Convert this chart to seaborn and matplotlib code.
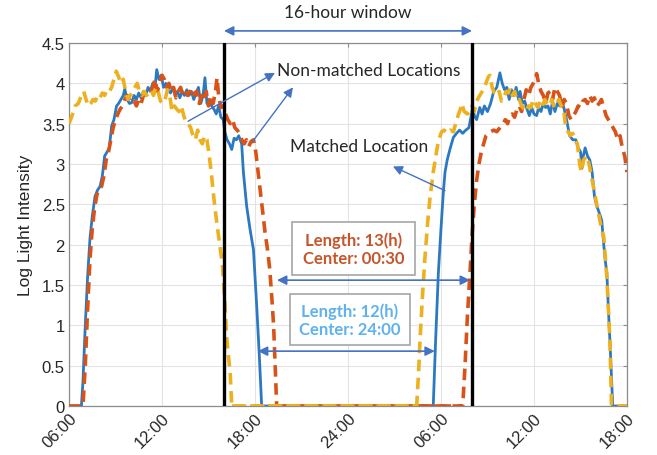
import matplotlib
matplotlib.use("Agg")
import matplotlib.pyplot as plt
import seaborn as sns
import pandas as pd
from matplotlib.patches import Rectangle

# ---------------- data (hours since 00:00 of day 1) ----------------
matched_hours = [6.0, 6.8, 6.9, 7.05, 7.2, 7.35, 7.5, 7.68, 7.85, 8.0, 8.15, 8.3, 8.43, 8.6, 8.75, 8.9, 9.07,
                 9.2, 9.35, 9.5, 9.6, 9.75, 9.9, 10.04, 10.2, 10.35, 10.5, 10.65, 10.8, 10.95, 11.1, 11.25,
                 11.4, 11.55, 11.66, 11.8, 11.95, 12.1, 12.25, 12.4, 12.55, 12.7, 12.85, 13.0, 13.15, 13.3,
                 13.45, 13.6, 13.75, 13.9, 14.05, 14.2, 14.35, 14.5, 14.65, 14.77, 14.9, 15.05, 15.2, 15.35,
                 15.5, 15.65, 15.8, 15.95, 16.05, 16.2, 16.35, 16.5, 16.65, 16.8, 16.95, 17.14, 17.25, 17.46,
                 17.68, 17.9, 18.11, 18.28, 18.43,
                 29.5, 29.65, 29.83, 30.0, 30.15, 30.26, 30.4, 30.6, 30.8, 31.0, 31.2, 31.4, 31.6, 31.8,
                 31.95, 32.05, 32.15, 32.3, 32.5, 32.65, 32.8, 33.0, 33.2, 33.4, 33.6, 33.8, 33.95, 34.1,
                 34.25, 34.4, 34.55, 34.7, 34.85, 35.0, 35.1, 35.25, 35.4, 35.55, 35.7, 35.85, 36.0, 36.17,
                 36.3, 36.45, 36.6, 36.75, 36.9, 37.05, 37.2, 37.35, 37.5, 37.65, 37.8, 37.95, 38.1, 38.3,
                 38.5, 38.7, 38.85, 39.0, 39.1, 39.18, 39.3, 39.45, 39.6, 39.75, 39.9, 40.05, 40.2, 40.37,
                 40.5, 40.6, 40.7, 40.8, 40.9, 41.0, 41.08, 42.0]
matched_values = [0, 0, 0.3, 1.0, 1.6, 2.07, 2.35, 2.6, 2.68, 2.72, 2.85, 3.1, 3.14, 3.2, 3.47, 3.55, 3.72,
                  3.75, 3.8, 3.85, 3.93, 3.8, 3.75, 3.76, 3.85, 3.8, 3.88, 3.82, 3.9, 3.85, 3.95, 3.9,
                  4.0, 3.95, 4.17, 4.05, 4.1, 3.95, 4.0, 3.92, 3.88, 3.95, 3.85, 3.9, 3.82, 3.9, 3.85,
                  3.92, 3.85, 3.9, 3.8, 3.88, 3.95, 3.75, 3.85, 4.07, 3.75, 3.8, 3.72, 3.68, 3.62, 3.72,
                  3.58, 3.55, 3.4, 3.3, 3.25, 3.18, 3.32, 3.3, 3.35, 3.25, 2.9, 2.48, 2.19, 1.94, 1.24, 0.62, 0,
                  0, 0.8, 1.65, 2.2, 2.65, 2.9, 3.05, 3.2, 3.33, 3.38, 3.42, 3.38, 3.42, 3.45, 3.6, 3.72,
                  3.6, 3.55, 3.7, 3.62, 3.72, 3.65, 3.75, 3.9, 3.95, 4.13, 4.0, 3.92, 3.95, 3.8, 3.92, 3.85,
                  3.95, 3.8, 3.9, 3.75, 3.78, 3.68, 3.6, 3.7, 3.62, 3.6, 3.7, 3.65, 3.75, 3.7, 3.72, 3.62,
                  3.78, 3.65, 3.75, 3.72, 3.78, 3.68, 3.55, 3.35, 3.3, 3.3, 3.2, 3.15, 2.95, 3.1, 3.2, 3.1,
                  3.05, 2.9, 2.6, 2.48, 2.4, 2.3, 2.0, 1.8, 1.65, 1.2, 0.8, 0.35, 0, 0]

nonmatched1_hours = [6.0, 6.9, 7.05, 7.2, 7.35, 7.5, 7.65, 7.8, 7.95, 8.1, 8.25, 8.4, 8.55, 8.7, 8.85, 9.0,
                     9.15, 9.3, 9.45, 9.6, 9.75, 9.9, 10.05, 10.2, 10.35, 10.5, 10.65, 10.8, 10.95, 11.1,
                     11.25, 11.4, 11.55, 11.7, 11.85, 12.0, 12.15, 12.3, 12.45, 12.6, 12.75, 12.9, 13.05,
                     13.2, 13.35, 13.5, 13.65, 13.8, 13.95, 14.1, 14.25, 14.4, 14.55, 14.7, 14.85, 15.0,
                     15.15, 15.3, 15.45, 15.55, 15.65, 15.8, 15.95, 16.1, 16.25, 16.4, 16.55, 16.7, 16.85,
                     17.0, 17.15, 17.3, 17.45, 17.6, 17.75, 17.9, 18.05, 18.2, 18.35, 18.5, 18.65, 18.8,
                     18.95, 19.1, 19.2, 19.3, 19.4,
                     31.4, 31.55, 31.7, 31.87, 32.0, 32.15, 32.3, 32.45, 32.6, 32.75, 32.9, 33.05, 33.2,
                     33.4, 33.6, 33.8, 34.0, 34.15, 34.3, 34.45, 34.6, 34.75, 34.9, 35.05, 35.2, 35.35,
                     35.5, 35.65, 35.8, 35.95, 36.1, 36.17, 36.3, 36.45, 36.6, 36.75, 36.9, 37.05, 37.2,
                     37.35, 37.5, 37.65, 37.8, 37.95, 38.1, 38.25, 38.4, 38.55, 38.7, 38.85, 39.0, 39.15,
                     39.3, 39.45, 39.6, 39.75, 39.9, 40.05, 40.2, 40.35, 40.5, 40.65, 40.8, 40.95, 41.1,
                     41.25, 41.4, 41.55, 41.7, 41.85, 42.0]
nonmatched1_values = [0, 0, 0.5, 1.2, 1.8, 2.2, 2.45, 2.62, 2.7, 2.72, 2.85, 3.05, 3.15, 3.3, 3.45, 3.55,
                      3.62, 3.68, 3.72, 3.8, 3.85, 3.8, 3.75, 3.78, 3.72, 3.8, 3.75, 3.85, 3.9, 3.88,
                      3.9, 3.95, 4.05, 3.9, 4.0, 4.1, 4.05, 3.95, 4.0, 3.9, 3.95, 3.82, 3.9, 3.95, 3.85,
                      3.9, 3.85, 3.9, 3.82, 3.88, 3.9, 3.75, 3.85, 3.78, 3.9, 3.72, 3.85, 3.75, 3.9, 4.07,
                      3.85, 3.7, 3.72, 3.62, 3.55, 3.5, 3.55, 3.45, 3.42, 3.38, 3.3, 3.25, 3.3, 3.22, 3.28,
                      3.3, 3.15, 2.9, 2.65, 2.4, 2.15, 1.95, 1.7, 1.3, 1.0, 0.5, 0,
                      0, 0.5, 1.1, 1.65, 2.1, 2.5, 2.8, 3.0, 3.15, 3.25, 3.35, 3.38, 3.4, 3.42, 3.4, 3.45,
                      3.5, 3.55, 3.5, 3.6, 3.62, 3.58, 3.68, 3.72, 3.65, 3.8, 3.92, 3.85, 3.95, 4.0, 4.05,
                      4.12, 4.0, 3.9, 3.85, 3.75, 3.88, 3.9, 3.8, 3.95, 3.9, 3.85, 3.7, 3.8, 3.75, 3.6,
                      3.55, 3.6, 3.65, 3.72, 3.7, 3.78, 3.8, 3.75, 3.85, 3.78, 3.82, 3.72, 3.75, 3.8, 3.7,
                      3.6, 3.55, 3.5, 3.45, 3.4, 3.3, 3.35, 3.2, 3.1, 2.9]

nonmatched2_hours = [6.0, 6.2, 6.4, 6.6, 6.8, 6.95, 7.1, 7.25, 7.4, 7.55, 7.7, 7.85, 8.0, 8.15, 8.3, 8.45,
                     8.6, 8.75, 8.9, 9.05, 9.2, 9.35, 9.5, 9.65, 9.8, 9.95, 10.1, 10.25, 10.4, 10.55, 10.7,
                     10.85, 11.0, 11.15, 11.3, 11.45, 11.6, 11.75, 11.9, 12.05, 12.2, 12.35, 12.5, 12.65,
                     12.8, 12.95, 13.1, 13.25, 13.4, 13.55, 13.7, 13.85, 14.0, 14.15, 14.3, 14.45, 14.6,
                     14.75, 14.9, 15.05, 15.2, 15.4, 15.55, 15.74, 15.9, 16.05, 16.17, 16.3, 16.4, 16.5,
                     28.43, 28.55, 28.65, 28.8, 28.97, 29.15, 29.3, 29.5, 29.7, 29.85, 30.04, 30.2, 30.4,
                     30.6, 30.8, 30.95, 31.1, 31.25, 31.33, 31.5, 31.7, 31.87, 32.0, 32.15, 32.3, 32.5,
                     32.73, 32.9, 33.05, 33.16, 33.3, 33.45, 33.6, 33.75, 33.9, 34.05, 34.2, 34.35, 34.45,
                     34.6, 34.75, 34.9, 35.05, 35.2, 35.35, 35.5, 35.65, 35.8, 35.95, 36.1, 36.25, 36.4,
                     36.55, 36.7, 36.85, 37.0, 37.15, 37.3, 37.45, 37.6, 37.75, 37.9, 38.05, 38.2, 38.35,
                     38.5, 38.65, 38.8, 38.95, 39.05, 39.2, 39.4, 39.55, 39.7, 39.85, 40.05, 40.2, 40.35,
                     40.5, 40.6, 40.7, 40.8, 40.9, 40.95, 41.0, 42.0]
nonmatched2_values = [3.5, 3.6, 3.72, 3.75, 3.85, 3.9, 3.8, 3.72, 3.75, 3.8, 3.78, 3.85, 3.82, 3.88, 3.85,
                      3.92, 3.9, 3.95, 4.05, 4.15, 4.08, 4.0, 4.05, 3.9, 3.8, 3.85, 3.9, 3.95, 4.0, 3.9,
                      3.85, 3.9, 3.85, 3.88, 3.92, 3.85, 3.95, 3.9, 3.78, 3.75, 3.8, 3.92, 3.85, 3.65, 3.72,
                      3.68, 3.65, 3.72, 3.6, 3.52, 3.5, 3.45, 3.35, 3.3, 3.42, 3.3, 3.25, 3.35, 3.3, 3.1,
                      2.85, 2.48, 2.25, 1.98, 1.75, 1.3, 0.85, 0.6, 0.4, 0,
                      0, 0.4, 0.83, 1.35, 1.86, 2.3, 2.6, 2.9, 3.14, 3.3, 3.4, 3.42, 3.38, 3.42, 3.4, 3.5,
                      3.6, 3.68, 3.75, 3.65, 3.62, 3.65, 3.72, 3.65, 3.78, 3.85, 3.92, 4.0, 4.08, 4.1, 3.95,
                      3.88, 3.85, 3.9, 3.78, 3.82, 3.9, 3.88, 3.94, 3.85, 3.9, 3.78, 3.8, 3.72, 3.68, 3.65,
                      3.72, 3.7, 3.8, 3.75, 3.7, 3.78, 3.72, 3.8, 3.75, 3.72, 3.8, 3.7, 3.75, 3.8, 3.72,
                      3.7, 3.45, 3.4, 3.35, 3.38, 3.3, 3.25, 3.0, 2.9, 3.05, 3.1, 3.0, 2.85, 2.7, 2.5, 2.35,
                      2.2, 2.1, 1.85, 1.6, 1.2, 0.8, 0.4, 0, 0]

tick_hours = [6, 12, 18, 24, 30, 36, 42]
tick_labels = ["06:00", "12:00", "18:00", "24:00", "06:00", "12:00", "18:00"]
window_bounds = [16, 32]
y_ticks = [0, 0.5, 1, 1.5, 2, 2.5, 3, 3.5, 4, 4.5]
y_tick_labels = ["0", "0.5", "1", "1.5", "2", "2.5", "3", "3.5", "4", "4.5"]

# ---------------- styling ----------------
sns.set_style("white")
plt.rcParams["font.family"] = ["Liberation Sans", "DejaVu Sans"]

BLUE = "#2a79c2"
ORANGE = "#d95319"
YELLOW = "#edb120"
ARROW = "#4472c4"
ANNOT_FONT = ["Lato", "DejaVu Sans"]

fig = plt.figure(figsize=(6.57, 4.56), dpi=100)
ax = fig.add_axes([69 / 657, 1 - 407 / 456, (627 - 69) / 657, (407 - 44) / 456])

df_m = pd.DataFrame({"hour": matched_hours, "value": matched_values})
df_n1 = pd.DataFrame({"hour": nonmatched1_hours, "value": nonmatched1_values})
df_n2 = pd.DataFrame({"hour": nonmatched2_hours, "value": nonmatched2_values})

# zero segments at night for every series are implied by the endpoints
sns.lineplot(data=df_m, x="hour", y="value", ax=ax, color=BLUE, lw=2.0, sort=False,
             estimator=None, zorder=3)
l1 = sns.lineplot(data=df_n1, x="hour", y="value", ax=ax, color=ORANGE, lw=2.6, sort=False,
                  estimator=None, zorder=4).lines[-1]
l1.set_dashes((3.2, 1.8))
l2 = sns.lineplot(data=df_n2, x="hour", y="value", ax=ax, color=YELLOW, lw=2.6, sort=False,
                  estimator=None, zorder=5).lines[-1]
l2.set_dashes((3.2, 1.8))

# horizontal zero lines between the night gaps
ax.plot([18.43, 29.5], [0, 0], color=BLUE, lw=2.0, zorder=3)
l3, = ax.plot([19.4, 31.4], [0, 0], color=ORANGE, lw=2.6, zorder=4)
l3.set_dashes((3.2, 1.8))
l4, = ax.plot([16.5, 28.43], [0, 0], color=YELLOW, lw=2.6, zorder=5)
l4.set_dashes((3.2, 1.8))

for xb in window_bounds:
    ax.axvline(xb, color="black", lw=2.4, zorder=6)

ax.set_xlim(6, 42)
ax.set_ylim(0, 4.5)
ax.set_xticks(tick_hours)
ax.set_xticklabels(tick_labels, rotation=45, ha="right", rotation_mode="anchor", fontsize=12)
ax.set_yticks(y_ticks)
ax.set_yticklabels(y_tick_labels, fontsize=12)
ax.set_xlabel("")
ax.set_ylabel("Log Light Intensity", fontsize=12.5, labelpad=6)
ax.grid(True, color="#e3e3e3", lw=0.8, zorder=0)
ax.tick_params(direction="in", length=3, color="#8c8c8c", top=True, right=True,
               labeltop=False, labelright=False, pad=3)
for s in ax.spines.values():
    s.set_color("#8c8c8c")
    s.set_linewidth(0.9)

arrow_kw = dict(arrowstyle="<|-|>", color=ARROW, lw=1.2, mutation_scale=14, shrinkA=0, shrinkB=0)
single_kw = dict(arrowstyle="-|>", color=ARROW, lw=1.0, mutation_scale=14, shrinkA=0, shrinkB=0)

# 16-hour window
ax.annotate("", xy=(16, 4.65), xytext=(32, 4.65), arrowprops=arrow_kw, annotation_clip=False)
ax.text(24.0, 4.88, "16-hour window", ha="center", va="center", fontsize=12.5,
        family=ANNOT_FONT, clip_on=False)

# Non-matched labels
ax.text(19.45, 4.17, "Non-matched Locations", ha="left", va="center", fontsize=12.5,
        family=ANNOT_FONT, zorder=8)
ax.annotate("", xy=(19.29, 4.13), xytext=(13.68, 3.53), arrowprops=single_kw, zorder=8)
ax.annotate("", xy=(20.45, 3.95), xytext=(17.81, 3.27), arrowprops=single_kw, zorder=8)

# Matched label
ax.text(20.26, 3.22, "Matched Location", ha="left", va="center", fontsize=12.5,
        family=ANNOT_FONT, zorder=8)
ax.annotate("", xy=(26.9, 2.97), xytext=(30.26, 2.67), arrowprops=single_kw, zorder=8)

# Length boxes
ax.add_patch(Rectangle((20.39, 1.62), 7.93, 0.66, facecolor="white", edgecolor="#a6a6a6",
                       lw=1.2, zorder=7))
ax.text(24.35, 1.95, "Length: 13(h)\nCenter: 00:30", ha="center", va="center", fontsize=12,
        fontweight="bold", color="#c5562a", family=ANNOT_FONT, linespacing=1.15, zorder=8)
ax.add_patch(Rectangle((20.26, 0.755), 7.74, 0.63, facecolor="white", edgecolor="#a6a6a6",
                       lw=1.2, zorder=7))
ax.text(24.13, 1.07, "Length: 12(h)\nCenter: 24:00", ha="center", va="center", fontsize=12,
        fontweight="bold", color="#5fb2ee", family=ANNOT_FONT, linespacing=1.15, zorder=8)

ax.annotate("", xy=(19.42, 1.56), xytext=(31.87, 1.56), arrowprops=arrow_kw, zorder=8)
ax.annotate("", xy=(18.19, 0.68), xytext=(29.6, 0.68), arrowprops=arrow_kw, zorder=8)

fig.savefig("out.png", dpi=100)
